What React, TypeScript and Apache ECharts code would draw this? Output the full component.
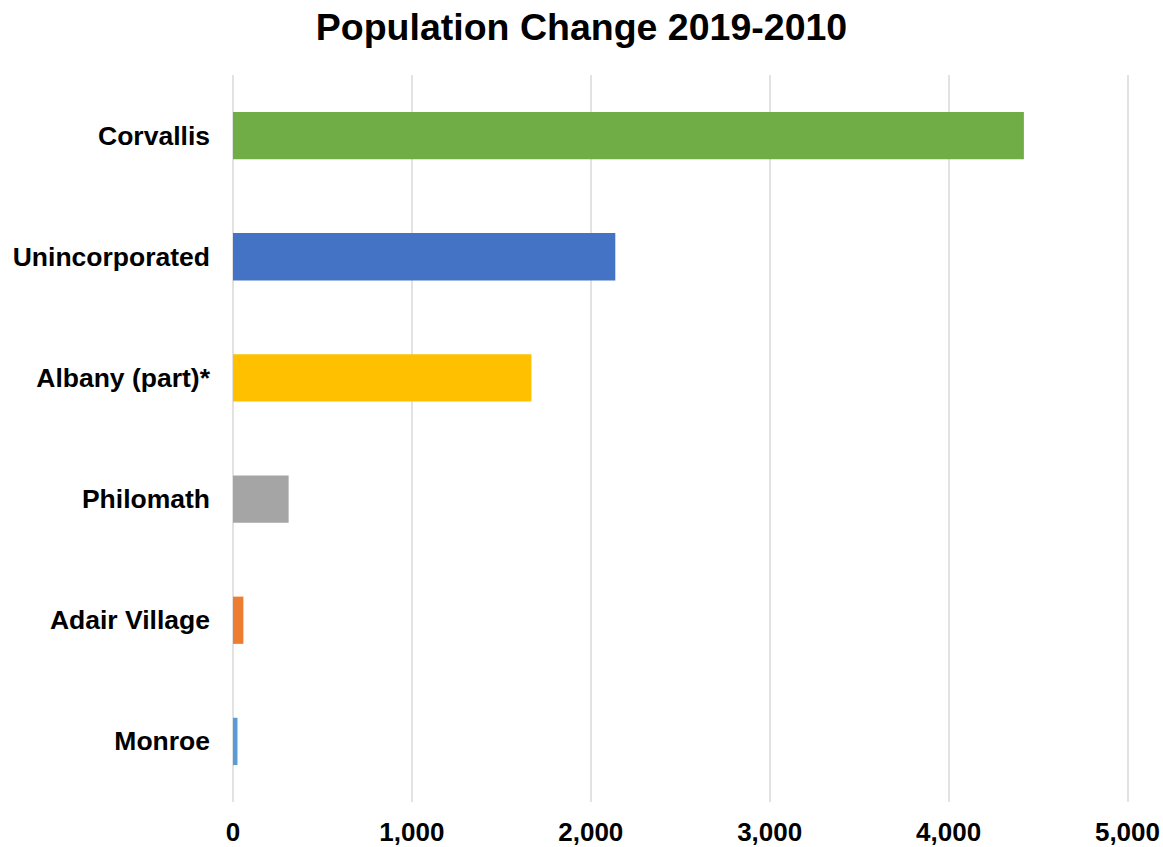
import React, { useEffect, useRef } from "react";
import * as echarts from "echarts";

const TITLE = "Population Change 2019-2010";
const categories = ["Corvallis", "Unincorporated", "Albany (part)*", "Philomath", "Adair Village", "Monroe"];
const values = [4421, 2137, 1668, 311, 58, 25];
const barColors = ["#70AD47", "#4472C4", "#FFC000", "#A5A5A5", "#ED7D31", "#5B9BD5"];
const xMin = 0;
const xMax = 5000;
const xInterval = 1000;

const FONT = "'Liberation Sans', Arial, Helvetica, sans-serif";

export default function App() {
  const ref = useRef<HTMLDivElement>(null);
  useEffect(() => {
    if (!ref.current) return;
    const chart = echarts.init(ref.current, null, { renderer: "svg" });
    chart.setOption({
      animation: false,
      backgroundColor: "#ffffff",
      title: {
        text: TITLE,
        left: "center",
        top: 3,
        textStyle: { fontFamily: FONT, fontWeight: "bold", fontSize: 37.5, color: "#000000" },
      },
      grid: { left: 233, right: 35, top: 75, bottom: 45, containLabel: false },
      xAxis: {
        type: "value",
        min: xMin,
        max: xMax,
        interval: xInterval,
        axisLine: { show: false },
        axisTick: { show: false },
        splitLine: { show: true, lineStyle: { color: "#D9D9D9", width: 1.5 } },
        axisLabel: {
          margin: 17,
          fontFamily: FONT,
          fontWeight: "bold",
          fontSize: 26,
          color: "#000000",
          formatter: (v: number) => v.toLocaleString("en-US"),
        },
      },
      yAxis: {
        type: "category",
        data: categories,
        inverse: true,
        axisLine: { show: false },
        axisTick: { show: false },
        axisLabel: {
          margin: 23,
          fontFamily: FONT,
          fontWeight: "bold",
          fontSize: 26.5,
          color: "#000000",
        },
      },
      series: [
        {
          type: "bar",
          barWidth: "39%",
          data: values.map((v, i) => ({ value: v, itemStyle: { color: barColors[i] } })),
        },
      ],
    });
    return () => chart.dispose();
  }, []);
  return (
    <div
      ref={ref}
      style={{ position: "absolute", left: 0, top: 0, width: 1163, height: 847 }}
    />
  );
}
